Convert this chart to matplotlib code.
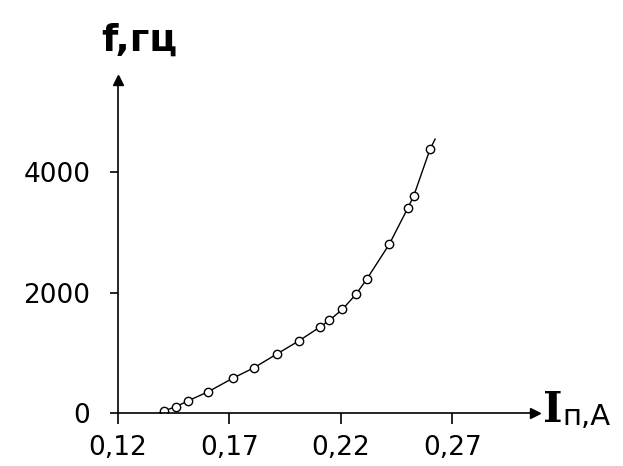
import matplotlib
matplotlib.use('Agg')
import matplotlib.pyplot as plt

# measured points: current I (A) vs frequency f (Hz)
current = [0.1408, 0.1460, 0.1515, 0.1605, 0.1714, 0.1810, 0.1912, 0.2012,
           0.2106, 0.2148, 0.2206, 0.2267, 0.2315, 0.2417, 0.2499, 0.2526,
           0.2599]
freq = [38, 105, 204, 354, 576, 752, 979, 1200, 1428, 1539, 1721, 1970,
        2219, 2805, 3398, 3602, 4377]

# drawn curve: starts at the axis and runs a bit past the last point
curve_x = [0.1385] + current + [0.2622]
curve_y = [0] + freq + [4548]

xticks = [0.12, 0.17, 0.22, 0.27]
xtick_labels = ['0,12', '0,17', '0,22', '0,27']
yticks = [0, 2000, 4000]
ytick_labels = ['0', '2000', '4000']

fig = plt.figure(figsize=(6.23, 4.66), dpi=100)
ax = fig.add_axes([0.1894, 0.1137, 0.6693, 0.7146])

ax.plot(curve_x, curve_y, color='black', lw=1.0)
ax.plot(current, freq, 'o', ms=6, mfc='white', mec='black', mew=1.0)

ax.set_xlim(0.12, 0.307)
ax.set_ylim(0, 5530)
ax.spines['top'].set_visible(False)
ax.spines['right'].set_visible(False)
for s in ('left', 'bottom'):
    ax.spines[s].set_linewidth(1.2)

ax.set_xticks(xticks)
ax.set_xticklabels(xtick_labels)
ax.set_yticks(yticks)
ax.set_yticklabels(ytick_labels)
ax.tick_params(axis='x', length=8, width=1.2, pad=8, labelsize=19)
ax.tick_params(axis='y', length=6, width=1.2, pad=14, labelsize=19)
for lab in ax.get_xticklabels() + ax.get_yticklabels():
    lab.set_fontfamily('DejaVu Sans')

# axis arrows
ax.plot(1, 0, '>k', ms=7, transform=ax.transAxes, clip_on=False)
ax.plot(0, 1, '^k', ms=7, transform=ax.transAxes, clip_on=False)

# axis names
fig.text(0.163, 0.875, 'f,гц', fontsize=27, fontweight='bold',
         family=['DejaVu Sans'], ha='left', va='bottom')
fig.text(0.872, 0.075, 'I', fontsize=30, fontweight='bold',
         family=['DejaVu Serif'], ha='left', va='bottom')
fig.text(0.903, 0.075, 'п,A', fontsize=21, family=['DejaVu Sans'],
         ha='left', va='bottom')

fig.savefig('out.png', dpi=100)
